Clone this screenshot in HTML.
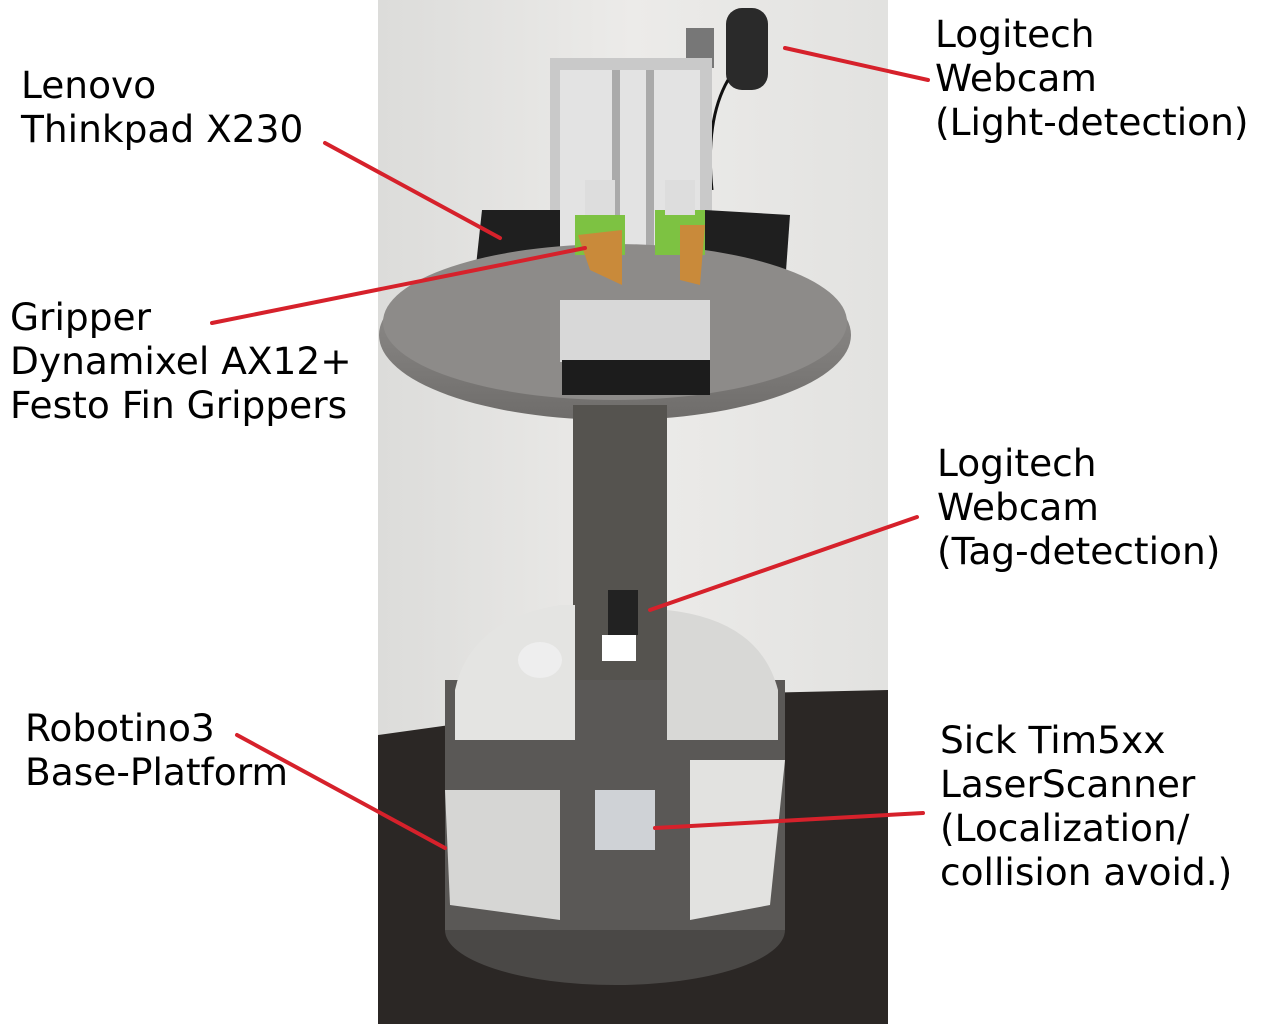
<!DOCTYPE html>
<html><head><meta charset="utf-8"><style>
html,body{margin:0;padding:0;background:#fff;}
body{width:1263px;height:1024px;position:relative;overflow:hidden;font-family:"DejaVu Sans","Liberation Sans",sans-serif;}
.t{position:absolute;font-size:37.5px;line-height:44px;color:#000;white-space:nowrap;}
svg{position:absolute;left:0;top:0;}
</style></head><body>
<svg width="1263" height="1024" viewBox="0 0 1263 1024">
  <defs>
    <linearGradient id="wall" x1="0" y1="0" x2="1" y2="0">
      <stop offset="0" stop-color="#dcdcda"/><stop offset="0.5" stop-color="#ecebe9"/><stop offset="1" stop-color="#e2e2e0"/>
    </linearGradient>
    <linearGradient id="disk" x1="0" y1="0" x2="0" y2="1">
      <stop offset="0" stop-color="#9a9896"/><stop offset="1" stop-color="#6e6c6a"/>
    </linearGradient>
  </defs>
  <rect x="378" y="0" width="510" height="1024" fill="url(#wall)"/>
  <polygon points="378,735 450,725 450,700 888,690 888,1024 378,1024" fill="#2b2725"/>
  <rect x="686" y="28" width="28" height="40" fill="#777"/>
  <rect x="726" y="8" width="42" height="82" rx="16" fill="#2a2a2a"/>
  <path d="M728 80 Q705 120 712 190" stroke="#111" stroke-width="3" fill="none"/>
  <rect x="550" y="58" width="162" height="300" fill="#c9c9c9"/>
  <rect x="560" y="70" width="140" height="290" fill="#e3e3e3"/>
  <rect x="612" y="70" width="8" height="290" fill="#aaa"/>
  <rect x="646" y="70" width="8" height="290" fill="#aaa"/>
  <polygon points="482,210 560,210 560,280 475,275" fill="#1f1f1f"/>
  <polygon points="705,210 790,215 785,285 705,280" fill="#1f1f1f"/>
  <ellipse cx="615" cy="335" rx="236" ry="85" fill="url(#disk)"/>
  <ellipse cx="615" cy="322" rx="232" ry="78" fill="#8d8b89"/>
  <rect x="560" y="300" width="150" height="62" fill="#d8d8d8"/>
  <rect x="562" y="360" width="148" height="35" fill="#1c1c1c"/>
  <rect x="575" y="215" width="50" height="40" fill="#7dc242"/>
  <polygon points="578,235 622,230 622,285 590,270" fill="#c98a3a"/>
  <rect x="655" y="210" width="50" height="45" fill="#7dc242"/>
  <polygon points="680,225 705,225 700,285 680,280" fill="#c98a3a"/>
  <rect x="585" y="180" width="30" height="35" fill="#ddd"/>
  <rect x="665" y="180" width="30" height="35" fill="#ddd"/>
  <rect x="573" y="405" width="94" height="330" fill="#55534f"/>
  <rect x="608" y="590" width="30" height="45" fill="#222"/>
  <rect x="602" y="635" width="34" height="26" fill="#fff"/>
  <ellipse cx="615" cy="930" rx="170" ry="55" fill="#4a4846"/>
  <rect x="445" y="680" width="340" height="250" fill="#5a5856"/>
  <path d="M455 690 Q470 620 560 605 L575 605 L575 740 L455 740 Z" fill="#e4e4e2"/>
  <path d="M667 610 Q760 620 778 690 L778 740 L667 740 Z" fill="#d8d8d6"/>
  <path d="M445 790 L560 790 L560 920 L450 905 Z" fill="#d6d6d4"/>
  <path d="M690 760 L785 760 L770 905 L690 920 Z" fill="#e2e2e0"/>
  <rect x="595" y="790" width="60" height="60" fill="#cfd2d6"/>
  <ellipse cx="540" cy="660" rx="22" ry="18" fill="#eee"/>
</svg>
<svg width="1263" height="1024" viewBox="0 0 1263 1024">
  <g stroke="#d6212b" stroke-width="4" stroke-linecap="round">
    <line x1="325" y1="143" x2="500" y2="238"/>
    <line x1="212" y1="323" x2="585" y2="248"/>
    <line x1="785" y1="48" x2="928" y2="80"/>
    <line x1="917" y1="517" x2="650" y2="610"/>
    <line x1="237" y1="735" x2="445" y2="848"/>
    <line x1="923" y1="813" x2="655" y2="828"/>
  </g>
</svg>
<div class="t" style="left:21px;top:63px;">Lenovo<br>Thinkpad X230</div>
<div class="t" style="left:10px;top:295px;">Gripper<br>Dynamixel AX12+<br>Festo Fin Grippers</div>
<div class="t" style="left:25px;top:706px;">Robotino3<br>Base-Platform</div>
<div class="t" style="left:935px;top:12px;">Logitech<br>Webcam<br>(Light-detection)</div>
<div class="t" style="left:937px;top:441px;">Logitech<br>Webcam<br>(Tag-detection)</div>
<div class="t" style="left:940px;top:718px;">Sick Tim5xx<br>LaserScanner<br>(Localization/<br>collision avoid.)</div>
</body></html>
